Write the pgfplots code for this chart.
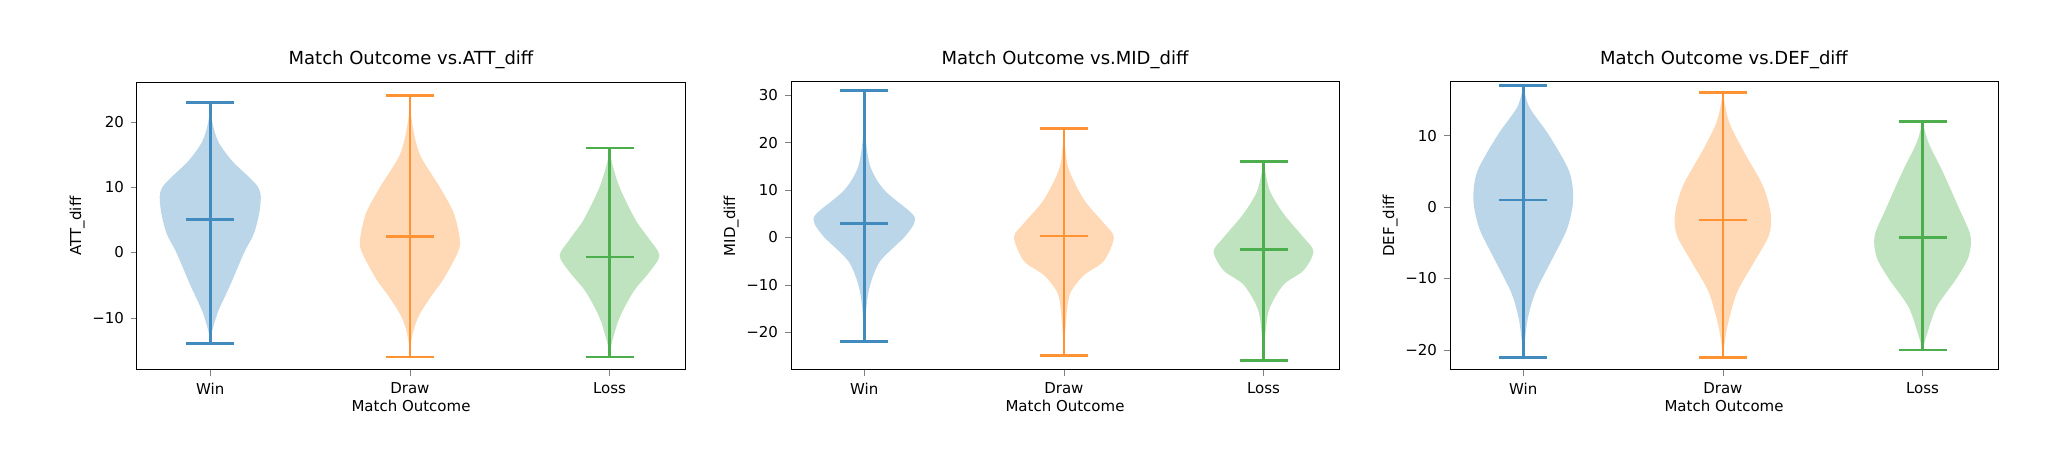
\documentclass[border=0pt]{standalone}
\usepackage{pgfplots}
\usepackage{pgfplotstable}
\pgfplotsset{compat=1.18}
\usepackage{fontspec}
\setmainfont{DejaVu Sans}
\definecolor{c0}{HTML}{1F77B4}
\definecolor{c1}{HTML}{FF7F0E}
\definecolor{c2}{HTML}{2CA02C}
% half-widths of violins
\pgfplotstableread[row sep=\\]{y w\\ -14 0\\ -12 0.01\\ -9 0.04\\ -5 0.10\\ 0 0.17\\ 3 0.22\\ 7 0.25\\ 10 0.24\\ 14 0.11\\ 17 0.04\\ 20 0.01\\ 23 0\\}\AW
\pgfplotstableread[row sep=\\]{y w\\ -16 0\\ -13 0.01\\ -10 0.04\\ -7 0.10\\ -4 0.17\\ 0 0.24\\ 2 0.25\\ 6 0.22\\ 10 0.15\\ 15 0.05\\ 20 0.01\\ 24 0\\}\AD
\pgfplotstableread[row sep=\\]{y w\\ -16 0\\ -14 0.01\\ -10 0.05\\ -6 0.12\\ -3 0.20\\ -0.5 0.25\\ 2 0.20\\ 5 0.13\\ 10 0.05\\ 14 0.01\\ 16 0\\}\AL
\pgfplotstableread[row sep=\\]{y w\\ -22 0\\ -15 0.01\\ -10 0.03\\ -5 0.08\\ 0 0.20\\ 3 0.25\\ 5 0.24\\ 10 0.10\\ 15 0.03\\ 22 0.005\\ 31 0\\}\MW
\pgfplotstableread[row sep=\\]{y w\\ -25 0\\ -18 0.01\\ -12 0.03\\ -8 0.10\\ -5 0.20\\ 0 0.25\\ 3 0.20\\ 8 0.10\\ 15 0.02\\ 23 0\\}\MD
\pgfplotstableread[row sep=\\]{y w\\ -26 0\\ -20 0.01\\ -15 0.03\\ -10 0.10\\ -7 0.20\\ -3 0.25\\ 0 0.20\\ 5 0.10\\ 10 0.03\\ 16 0\\}\ML
\pgfplotstableread[row sep=\\]{y w\\ -21 0\\ -16 0.02\\ -12 0.06\\ -7 0.15\\ -3 0.22\\ 1 0.25\\ 5 0.23\\ 10 0.13\\ 14 0.03\\ 17 0\\}\DW
\pgfplotstableread[row sep=\\]{y w\\ -21 0\\ -17 0.02\\ -12 0.07\\ -8 0.15\\ -4 0.23\\ -1 0.24\\ 3 0.20\\ 8 0.10\\ 12 0.03\\ 16 0\\}\DD
\pgfplotstableread[row sep=\\]{y w\\ -20 0\\ -18 0.02\\ -14 0.07\\ -10 0.17\\ -7 0.23\\ -4 0.24\\ 0 0.18\\ 5 0.10\\ 9 0.03\\ 12 0\\}\DL
\newcommand{\violin}[6]{%
  \addplot[fill=#2, fill opacity=0.3, draw=none, smooth, tension=0.5] table[x expr=#1+\thisrow{w}, y=y] {#3} \closedcycle;
  \addplot[fill=#2, fill opacity=0.3, draw=none, smooth, tension=0.5] table[x expr=#1-\thisrow{w}, y=y] {#3} \closedcycle;
  \addplot[#2!85!white, line width=1.4pt] coordinates {(#1,#4) (#1,#5)};
  \addplot[#2!85!white, line width=1.4pt] coordinates {(#1-0.12,#4) (#1+0.12,#4)};
  \addplot[#2!85!white, line width=1.4pt] coordinates {(#1-0.12,#5) (#1+0.12,#5)};
  \addplot[#2!85!white, line width=1.4pt] coordinates {(#1-0.12,#6) (#1+0.12,#6)};
}
\pgfplotsset{vio/.style={width=274pt, height=144pt, scale only axis,
  xmin=0.633, xmax=3.378, xtick={1,2,3}, xticklabels={Win,Draw,Loss},
  tick align=outside, xtick pos=bottom, ytick pos=left,
  major tick length=3pt, axis line style={line width=0.5pt},
  tick label style={font=\fontsize{7.5}{9}\selectfont},
  label style={font=\fontsize{7.5}{9}\selectfont},
  title style={font=\fontsize{9}{11}\selectfont, yshift=-3pt},
  xlabel={Match Outcome}, xlabel style={yshift=4pt}, ylabel style={yshift=-3pt},
  anchor=south west, clip=false}}
\begin{document}
\begin{tikzpicture}[x=1pt,y=1pt]
\path (0,0) rectangle (1028,230);
\begin{axis}[vio, at={(68.5pt,45pt)}, ymin=-18, ymax=26.1, ytick={-10,0,10,20},
  yticklabels={−10,0,10,20},
  title={Match Outcome vs.ATT\_diff}, ylabel={ATT\_diff}]
\violin{1}{c0}{\AW}{-14}{23}{5}
\violin{2}{c1}{\AD}{-16}{24}{2.5}
\violin{3}{c2}{\AL}{-16}{16}{-0.7}
\end{axis}
\begin{axis}[vio, at={(395.5pt,45pt)}, ymin=-28, ymax=32.8, ytick={-20,-10,0,10,20,30},
  yticklabels={−20,−10,0,10,20,30},
  title={Match Outcome vs.MID\_diff}, ylabel={MID\_diff}]
\violin{1}{c0}{\MW}{-22}{31}{3}
\violin{2}{c1}{\MD}{-25}{23}{0.3}
\violin{3}{c2}{\ML}{-26}{16}{-2.5}
\end{axis}
\begin{axis}[vio, at={(725pt,45pt)}, ymin=-22.8, ymax=17.5, ytick={-20,-10,0,10},
  yticklabels={−20,−10,0,10},
  title={Match Outcome vs.DEF\_diff}, ylabel={DEF\_diff}]
\violin{1}{c0}{\DW}{-21}{17}{1}
\violin{2}{c1}{\DD}{-21}{16}{-1.8}
\violin{3}{c2}{\DL}{-20}{12}{-4.3}
\end{axis}
\end{tikzpicture}
\end{document}
